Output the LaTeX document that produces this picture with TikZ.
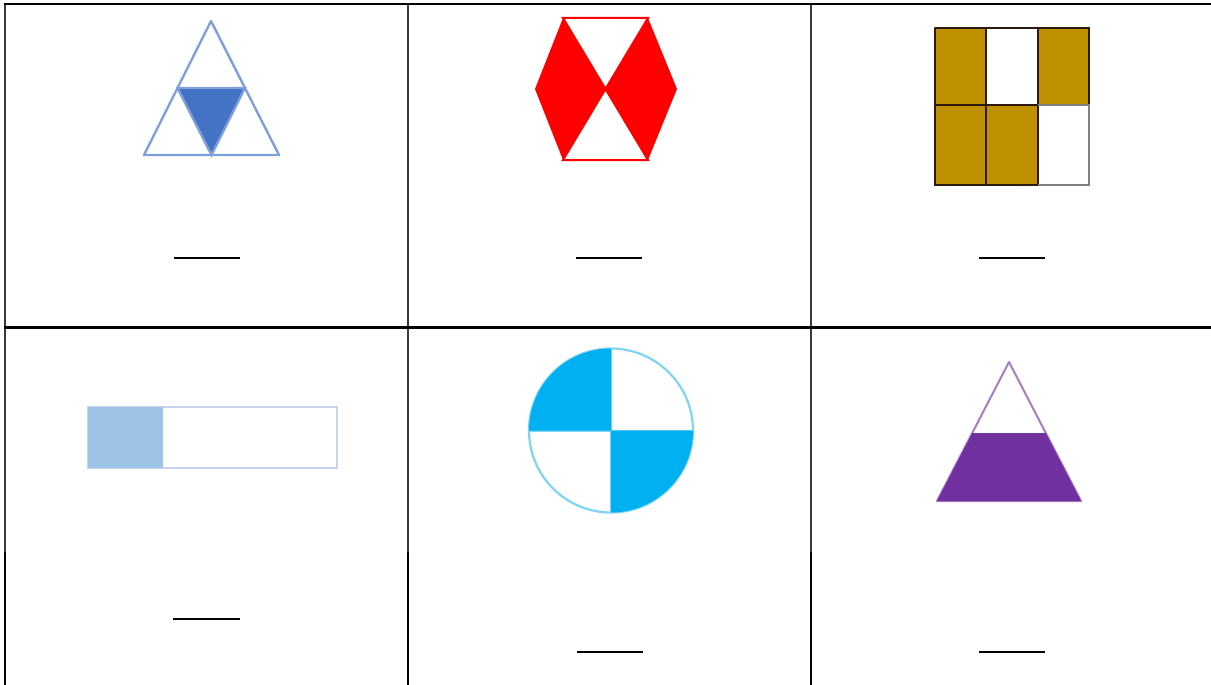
\documentclass[tikz,border=0pt]{standalone}
\definecolor{triblue}{HTML}{4472C4}
\definecolor{trilight}{HTML}{7F9FDB}
\definecolor{hexred}{HTML}{FF0000}
\definecolor{gold}{HTML}{BF9000}
\definecolor{barblue}{HTML}{9DC3E6}
\definecolor{barline}{HTML}{C9D3EE}
\definecolor{cyanf}{HTML}{00B0F0}
\definecolor{cyanl}{HTML}{7FD4F6}
\definecolor{purp}{HTML}{7030A0}
\definecolor{purpl}{HTML}{A77CC9}
\definecolor{gridgray}{HTML}{3A3A3A}
\definecolor{celldark}{HTML}{2A1A10}
\tikzset{
  rule/.style={line width=2.8pt, black},
  vrule/.style={line width=1.8pt, gridgray},
  vruleb/.style={line width=2.2pt, black},
  blank/.style={line width=1.8pt, black},
}
\begin{document}
\begin{tikzpicture}[x=1pt,y=-1pt]
\useasboundingbox (0,0) rectangle (1211,685);
\fill[white] (0,0) rectangle (1211,685);
% table
\draw[vrule] (5,4) -- (5,552);
\draw[vrule] (408,4) -- (408,552);
\draw[vrule] (811,4) -- (811,552);
\draw[vruleb] (5,552) -- (5,685);
\draw[vruleb] (408,552) -- (408,685);
\draw[vruleb] (811,552) -- (811,685);
\draw[rule] (4,4) -- (1211,4);
\draw[rule] (4,327.5) -- (1211,327.5);
% blanks
\draw[blank] (174,258) -- (240,258);
\draw[blank] (576,258) -- (642,258);
\draw[blank] (979,258) -- (1045,258);
\draw[blank] (173,619) -- (240,619);
\draw[blank] (577,652) -- (643,652);
\draw[blank] (979,652) -- (1045,652);
% shape 1: triangle
\coordinate (A) at (211,21);
\coordinate (B) at (144,155);
\coordinate (C) at (279,155);
\coordinate (AB) at (177.5,88);
\coordinate (AC) at (245,88);
\coordinate (BC) at (211.5,155);
\fill[triblue] (AB) -- (AC) -- (BC) -- cycle;
\draw[trilight, line width=2.4pt, line join=round] (A) -- (B) -- (C) -- cycle;
\draw[trilight, line width=2.4pt] (AB) -- (AC) -- (BC) -- cycle;
% shape 2: hexagon
\coordinate (H1) at (563,18);
\coordinate (H2) at (648,18);
\coordinate (H3) at (677,89);
\coordinate (H4) at (648,160);
\coordinate (H5) at (563,160);
\coordinate (H6) at (535,89);
\coordinate (HC) at (605.5,89);
\fill[hexred] (H1) -- (HC) -- (H5) -- (H6) -- cycle;
\fill[hexred] (H2) -- (H3) -- (H4) -- (HC) -- cycle;
\draw[hexred, line width=2pt] (H1) -- (H2) -- (HC) -- cycle;
\draw[hexred, line width=2pt] (H5) -- (H4) -- (HC) -- cycle;
% shape 3: grid
\fill[gold] (935,28) rectangle (986,105);
\fill[gold] (1038,28) rectangle (1089,105);
\fill[gold] (935,105) rectangle (986,185);
\fill[gold] (986,105) rectangle (1038,185);
\draw[gray, line width=1.3pt] (935,28) rectangle (1089,185);
\draw[celldark, line width=1.1pt] (986,28) -- (986,185);
\draw[celldark, line width=1.1pt] (1038,28) -- (1038,105);
\draw[celldark, line width=1.1pt] (935,105) -- (1038,105);
\draw[celldark, line width=1.1pt] (935,28) -- (1089,28) -- (1089,105) -- (1038,105);
\draw[celldark, line width=1.1pt] (935,28) -- (935,185) -- (1038,185) -- (1038,105);
\draw[gray, line width=1.3pt] (1038,105) -- (1089,105) -- (1089,185) -- (1038,185);
% shape 4: bar
\fill[barblue] (88,407) rectangle (163,468);
\draw[barline, line width=2pt] (88,407) rectangle (337,468);
\fill[barblue] (88,407) rectangle (163,468);
% shape 5: circle
\coordinate (O) at (611,430.5);
\draw[cyanl, line width=2.2pt] (O) circle[radius=82];
\draw[cyanl, line width=2pt] (529,430.5) -- (693,430.5);
\draw[cyanl, line width=2pt] (611,348.5) -- (611,512.5);
\fill[cyanf] (O) -- ++(-82,0) arc[start angle=180, end angle=270, radius=82] -- cycle;
\fill[cyanf] (O) -- ++(82,0) arc[start angle=0, end angle=90, radius=82] -- cycle;
% shape 6: purple triangle
\coordinate (P1) at (1009,362);
\coordinate (P2) at (937,501);
\coordinate (P3) at (1081,501);
\coordinate (PL) at (972.3,433);
\coordinate (PR) at (1045.8,433);
\draw[purpl, line width=2pt, line join=round] (P1) -- (P2) -- (P3) -- cycle;
\fill[purp] (PL) -- (PR) -- (P3) -- (P2) -- cycle;
\end{tikzpicture}
\end{document}
